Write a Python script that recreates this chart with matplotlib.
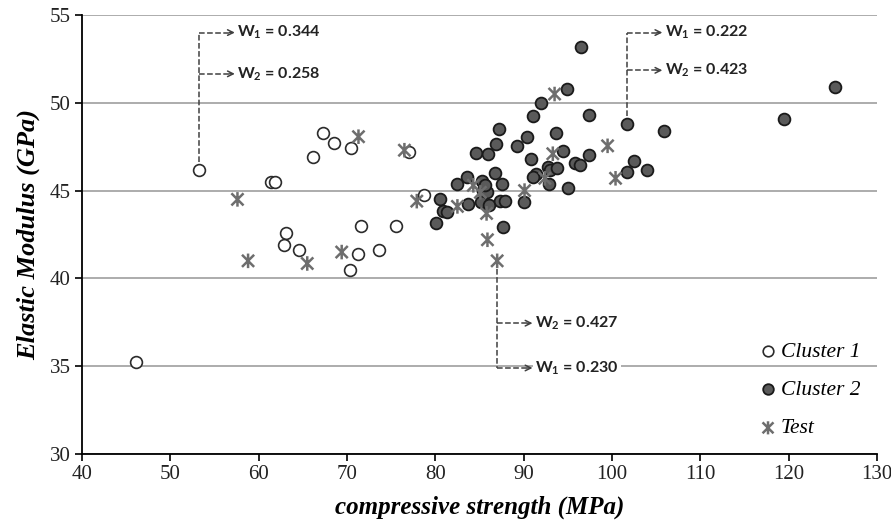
import matplotlib
matplotlib.use('Agg')
import matplotlib.pyplot as plt
from matplotlib.path import Path

# data
c1_x = [53.3, 46.1, 61.4, 61.9, 67.3, 68.5, 70.4, 66.2, 77.0, 63.1, 62.9, 64.6,
        71.6, 75.5, 71.2, 73.6, 70.3, 78.7]
c1_y = [46.2, 35.25, 45.5, 45.5, 48.3, 47.7, 47.4, 46.9, 47.2, 42.6, 41.9, 41.6,
        43.0, 43.0, 41.4, 41.6, 40.5, 44.75]

c2_x = [96.5, 94.9, 92.0, 91.0, 97.4, 101.7, 87.2, 93.7, 90.4, 86.9, 89.3, 84.6,
        86.0, 94.4, 97.4, 90.8, 95.8, 96.4, 102.5, 101.7, 104.0, 91.4, 91.1, 92.7,
        93.0, 93.8, 92.9, 95.0, 90.0, 87.7, 83.6, 82.5, 85.3, 86.7, 87.6, 85.4,
        85.9, 80.5, 80.9, 81.3, 80.1, 83.7, 85.2, 86.1, 87.3, 87.9, 125.3, 119.5,
        105.9, 85.6]
c2_y = [53.2, 50.8, 50.0, 49.25, 49.3, 48.8, 48.5, 48.3, 48.05, 47.65, 47.55, 47.15,
        47.1, 47.25, 47.0, 46.8, 46.6, 46.45, 46.7, 46.05, 46.2, 45.95, 45.75, 46.35,
        46.2, 46.3, 45.4, 45.15, 44.35, 42.9, 45.8, 45.4, 45.55, 46.0, 45.4, 45.0,
        44.9, 44.5, 43.85, 43.8, 43.15, 44.25, 44.35, 44.2, 44.4, 44.4, 50.9, 49.1,
        48.4, 45.3]

test_x = [57.6, 58.8, 65.5, 69.4, 71.3, 76.5, 77.9, 93.5, 99.5, 93.3, 100.4, 92.4,
          90.1, 85.9, 87.0, 84.3, 82.5, 85.8, 85.1]
test_y = [44.5, 41.0, 40.85, 41.5, 48.07, 47.3, 44.4, 50.5, 47.55, 47.1, 45.7, 45.7,
          45.0, 42.2, 41.0, 45.3, 44.1, 43.7, 44.9]

# annotated points: (x, y, end of dashed stem, [(y, label), ...])
notes = [
    (53.3, 46.2, 54.0, [(54.0, 'W$_{\\mathregular{1}}$ = 0.344'), (51.65, 'W$_{\\mathregular{2}}$ = 0.258')]),
    (101.7, 48.8, 54.0, [(54.0, 'W$_{\\mathregular{1}}$ = 0.222'), (51.85, 'W$_{\\mathregular{2}}$ = 0.423')]),
    (87.0, 41.0, 34.9, [(37.45, 'W$_{\\mathregular{2}}$ = 0.427'), (34.9, 'W$_{\\mathregular{1}}$ = 0.230')]),
]

# excel style star: an x with a vertical bar
star = Path([(-1, -1), (1, 1), (-1, 1), (1, -1), (0, -1.2), (0, 1.2)],
            [Path.MOVETO, Path.LINETO, Path.MOVETO, Path.LINETO, Path.MOVETO, Path.LINETO])

fig = plt.figure(figsize=(8.91, 5.26), dpi=100)
ax = fig.add_axes([82 / 891, 1 - 454 / 526, (877 - 82) / 891, (454 - 15) / 526])

ax.scatter(c1_x, c1_y, s=72, facecolor='white', edgecolor='#2b2b2b', linewidth=1.2,
           zorder=3, label='Cluster 1')
ax.scatter(c2_x, c2_y, s=72, facecolor='#5a5a5a', edgecolor='#1a1a1a', linewidth=1.3,
           zorder=3, label='Cluster 2')
ax.scatter(test_x, test_y, s=110, marker=star, facecolor='none', edgecolor='#6e6e6e',
           color='#6e6e6e', linewidth=1.8, zorder=4, label='Test')

# dashed leader lines with arrows
dash_col = '#404040'
for px, py, ytop, items in notes:
    ax.plot([px, px], [py + (0.45 if ytop > py else -0.45), ytop], ls='--', color=dash_col,
            lw=1.1, zorder=2)
    for yy, txt in items:
        xe = px + 4.0
        ax.plot([px, xe - 0.3], [yy, yy], ls='--', color=dash_col, lw=1.1, zorder=2)
        ax.annotate('', xy=(xe, yy), xytext=(xe - 0.6, yy),
                    arrowprops=dict(arrowstyle='->', color=dash_col, lw=1.1,
                                    shrinkA=0, shrinkB=0, mutation_scale=10))
        ax.text(xe + 0.3, yy, txt, fontsize=11.5, family='Lato', fontweight='bold',
                color='#222222', va='center', ha='left', zorder=5,
                bbox=dict(facecolor='white', edgecolor='none', pad=1.5))

ax.set_xlim(40, 130)
ax.set_ylim(30, 55)
ax.set_xticks(range(40, 131, 10))
ax.set_yticks(range(30, 56, 5))
ax.yaxis.grid(True, color='#a6a6a6', lw=1.3)
ax.set_axisbelow(True)
for s in ['top', 'right']:
    ax.spines[s].set_visible(False)
for s in ['left', 'bottom']:
    ax.spines[s].set_linewidth(1.3)
ax.tick_params(labelsize=15, length=5, width=1.2, colors='black', pad=3)
for lab in ax.get_xticklabels() + ax.get_yticklabels():
    lab.set_family('Liberation Serif')
    lab.set_color('#222222')

ax.set_xlabel('compressive strength (MPa)', family='Liberation Serif', style='italic',
              fontweight='bold', fontsize=18, labelpad=8)
ax.set_ylabel('Elastic Modulus (GPa)', family='Liberation Serif', style='italic',
              fontweight='bold', fontsize=19, labelpad=7)

leg = ax.legend(loc='upper left', bbox_to_anchor=(0.825, 0.30), frameon=False,
                prop=dict(family='Liberation Serif', style='italic', size=15.5),
                handletextpad=0.1, labelspacing=0.85, handlelength=1.0,
                scatterpoints=1, markerscale=0.9)

fig.savefig('out.png', dpi=100)
